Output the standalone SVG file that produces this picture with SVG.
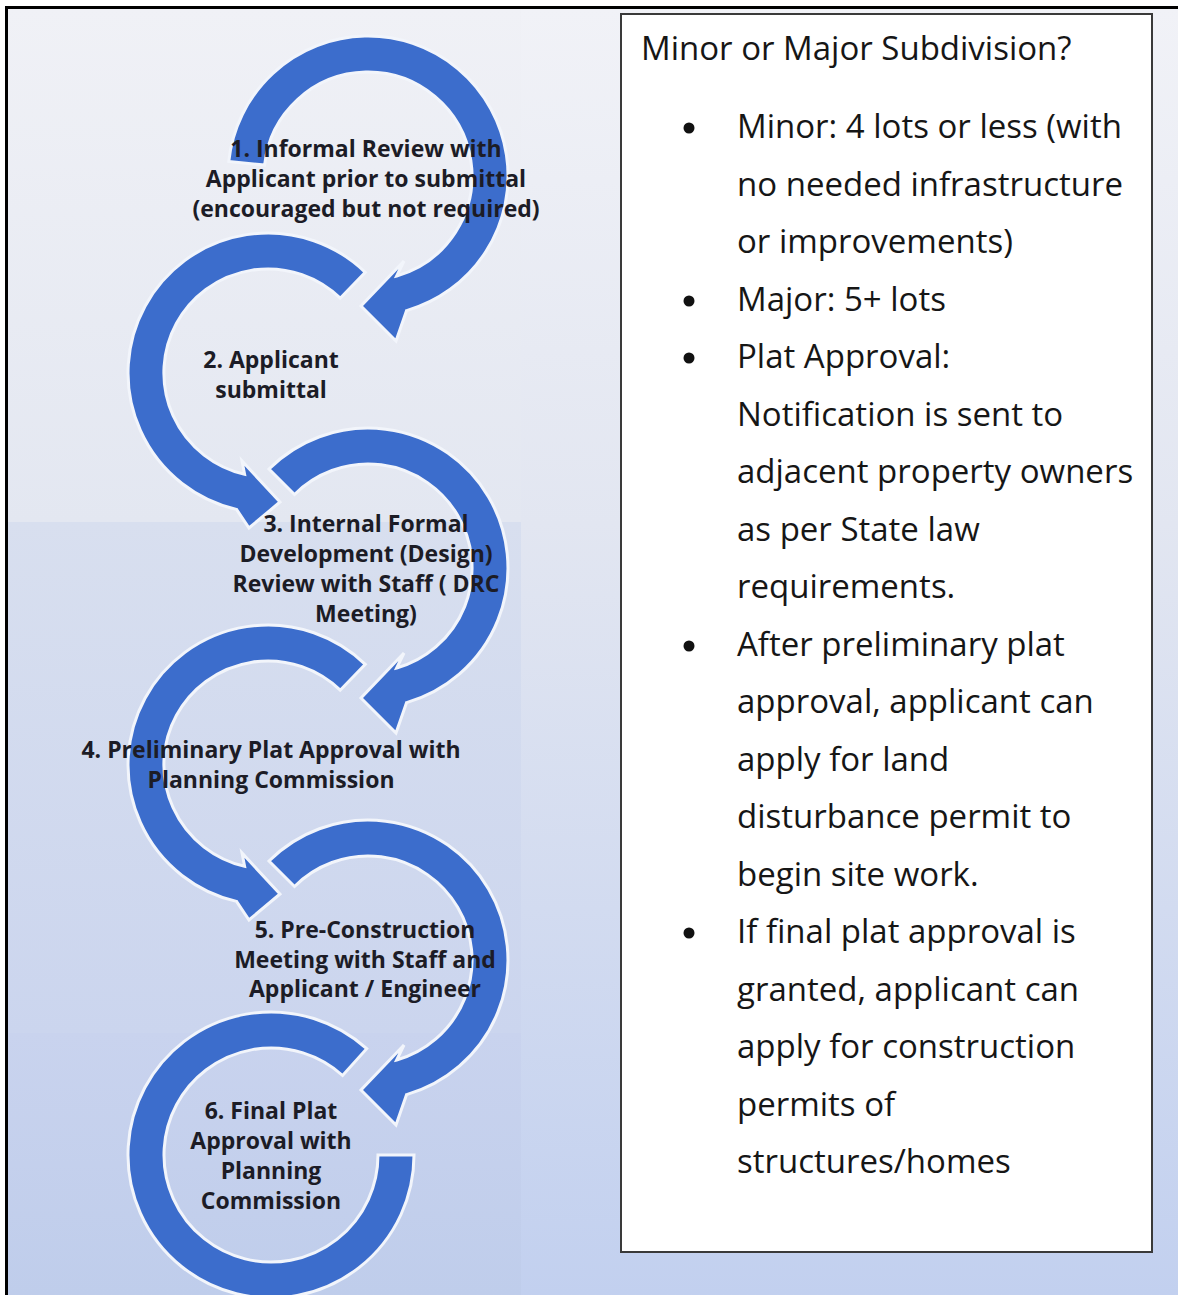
<svg xmlns="http://www.w3.org/2000/svg" width="1178" height="1295" viewBox="0 0 1178 1295">
  <defs>
    <linearGradient id="bg" x1="0" y1="0" x2="0" y2="1">
      <stop offset="0" stop-color="#f1f2f7"/>
      <stop offset="0.4" stop-color="#e2e6f1"/>
      <stop offset="1" stop-color="#c2d0ef"/>
    </linearGradient>
    <linearGradient id="band1" x1="0" y1="0" x2="0" y2="1">
      <stop offset="0" stop-color="#f0f1f6"/>
      <stop offset="1" stop-color="#e3e7f1"/>
    </linearGradient>
    <linearGradient id="band2" x1="0" y1="0" x2="0" y2="1">
      <stop offset="0" stop-color="#d8dfef"/>
      <stop offset="1" stop-color="#cbd5ee"/>
    </linearGradient>
    <linearGradient id="band3" x1="0" y1="0" x2="0" y2="1">
      <stop offset="0" stop-color="#c9d3ee"/>
      <stop offset="1" stop-color="#bfcdeb"/>
    </linearGradient>
    <style>
      .arrow { fill: #3c6dcc; stroke: #f2f5fb; stroke-width: 3; stroke-linejoin: miter; }
      .lbl { font-family: "Open Sans", "Liberation Sans", sans-serif; font-weight: bold; font-size: 23px; fill: #1c1c26; text-anchor: middle; }
      .box { font-family: "Open Sans", "Liberation Sans", sans-serif; font-size: 33px; fill: #161616; }
      .dot { fill: #111111; }
    </style>
  </defs>

  <rect x="0" y="0" width="1178" height="1295" fill="#ffffff"/>
  <rect x="8" y="9" width="1170" height="1286" fill="url(#bg)"/>
  <rect x="8" y="9" width="513" height="513" fill="url(#band1)"/>
  <rect x="8" y="522" width="513" height="511" fill="url(#band2)"/>
  <rect x="8" y="1033" width="513" height="262" fill="url(#band3)"/>
  <rect x="5" y="6" width="1173" height="3" fill="#000000"/>
  <rect x="5" y="6" width="3" height="1289" fill="#000000"/>

  <g id="step1">
    <path class="arrow" d="M228.8,161.4 A140,140 0 1 1 406.6,310.6 L396,341 L361,306 L404,261 L396.7,276 A104,104 0 1 0 264.6,165.1 Z"/>
    <text class="lbl" x="366" y="157">1. Informal Review with</text>
    <text class="lbl" x="366" y="187">Applicant prior to submittal</text>
    <text class="lbl" x="366" y="217">(encouraged but not required)</text>
  </g>

  <g id="step2">
    <path class="arrow" d="M365.3,272.3 A140,140 0 1 0 236.5,509.4 L249,528 L280,502 L242,461 L244.6,474.3 A104,104 0 1 1 340.2,298.2 Z"/>
    <text class="lbl" x="271" y="368">2. Applicant</text>
    <text class="lbl" x="271" y="398">submittal</text>
  </g>

  <g id="step3">
    <path class="arrow" d="M269,469 A140,140 0 1 1 406.6,702.6 L396,733 L361,698 L404,653 L396.7,668 A104,104 0 1 0 294.5,494.5 Z"/>
    <text class="lbl" x="366" y="532">3. Internal Formal</text>
    <text class="lbl" x="366" y="562">Development (Design)</text>
    <text class="lbl" x="366" y="592">Review with Staff ( DRC</text>
    <text class="lbl" x="366" y="622">Meeting)</text>
  </g>

  <g id="step4">
    <path class="arrow" d="M365.3,664.3 A140,140 0 1 0 236.5,901.4 L249,920 L280,894 L242,853 L244.6,866.3 A104,104 0 1 1 340.2,690.2 Z"/>
    <text class="lbl" x="271" y="758">4. Preliminary Plat Approval with</text>
    <text class="lbl" x="271" y="788">Planning Commission</text>
  </g>

  <g id="step5">
    <path class="arrow" d="M269,861 A140,140 0 1 1 406.6,1094.6 L396,1125 L361,1090 L404,1045 L396.7,1060 A104,104 0 1 0 294.5,886.5 Z"/>
    <text class="lbl" x="365" y="938">5. Pre-Construction</text>
    <text class="lbl" x="365" y="968">Meeting with Staff and</text>
    <text class="lbl" x="365" y="997">Applicant / Engineer</text>
  </g>

  <g id="step6">
    <path class="arrow" d="M366.7,1048.7 A143,143 0 1 0 414,1155 L378,1155 A107,107 0 1 1 342.6,1075.5 Z"/>
    <text class="lbl" x="271" y="1119">6. Final Plat</text>
    <text class="lbl" x="271" y="1149">Approval with</text>
    <text class="lbl" x="271" y="1179">Planning</text>
    <text class="lbl" x="271" y="1209">Commission</text>
  </g>

  <g id="connectors"></g>

  <g id="infobox">
    <rect x="621" y="14" width="531" height="1238" fill="#ffffff" stroke="#3a3a3a" stroke-width="2"/>
    <text class="box" x="641" y="60">Minor or Major Subdivision?</text>
    <circle class="dot" cx="689" cy="128" r="5.5"/>
    <circle class="dot" cx="689" cy="301" r="5.5"/>
    <circle class="dot" cx="689" cy="358" r="5.5"/>
    <circle class="dot" cx="689" cy="646" r="5.5"/>
    <circle class="dot" cx="689" cy="933" r="5.5"/>
    <text class="box" x="737" y="138">Minor: 4 lots or less (with</text>
    <text class="box" x="737" y="195.5">no needed infrastructure</text>
    <text class="box" x="737" y="253">or improvements)</text>
    <text class="box" x="737" y="310.5">Major: 5+ lots</text>
    <text class="box" x="737" y="368">Plat Approval:</text>
    <text class="box" x="737" y="425.5">Notification is sent to</text>
    <text class="box" x="737" y="483">adjacent property owners</text>
    <text class="box" x="737" y="540.5">as per State law</text>
    <text class="box" x="737" y="598">requirements.</text>
    <text class="box" x="737" y="655.5">After preliminary plat</text>
    <text class="box" x="737" y="713">approval, applicant can</text>
    <text class="box" x="737" y="770.5">apply for land</text>
    <text class="box" x="737" y="828">disturbance permit to</text>
    <text class="box" x="737" y="885.5">begin site work.</text>
    <text class="box" x="737" y="943">If final plat approval is</text>
    <text class="box" x="737" y="1000.5">granted, applicant can</text>
    <text class="box" x="737" y="1058">apply for construction</text>
    <text class="box" x="737" y="1115.5">permits of</text>
    <text class="box" x="737" y="1173">structures/homes</text>
  </g>
</svg>
